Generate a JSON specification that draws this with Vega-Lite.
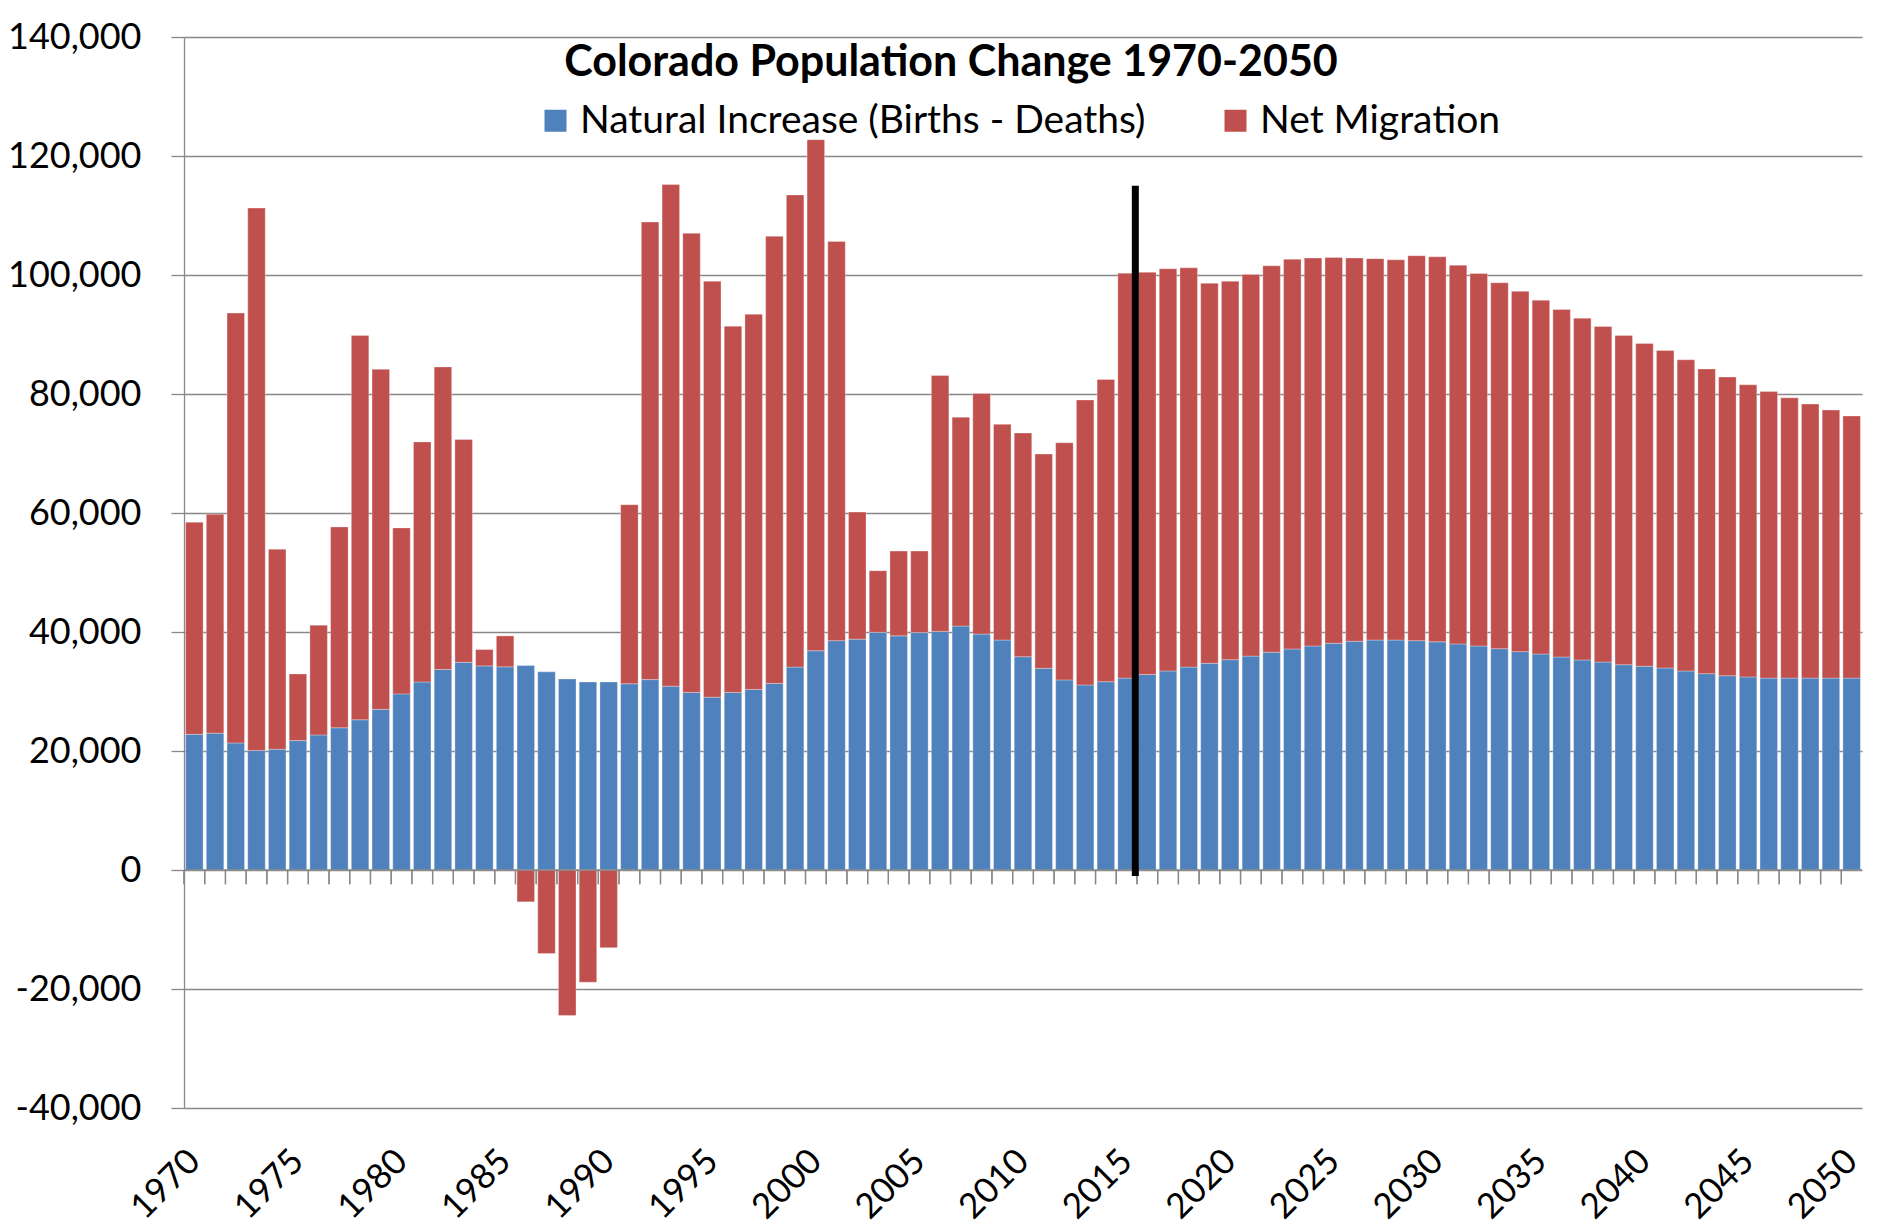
{
  "$schema": "https://vega.github.io/schema/vega-lite/v6.json",
  "width": 1678,
  "height": 1071,
  "autosize": {"type": "none"},
  "padding": {"left": 184, "top": 37, "right": 18, "bottom": 117},
  "background": "white",
  "config": {"view": {"stroke": null}, "font": "Lato"},
  "title": {"text": "Colorado Population Change 1970-2050", "frame": "group", "anchor": "middle", "offset": -62, "baseline": "middle", "dy": 25, "dx": -72, "fontSize": 43, "fontWeight": "bold", "font": "Lato", "color": "black"},
  "data": {"values": [
    {"year": 1970, "natural": 22800, "migration": 35650},
    {"year": 1971, "natural": 23000, "migration": 36800},
    {"year": 1972, "natural": 21350, "migration": 72250},
    {"year": 1973, "natural": 20100, "migration": 91150},
    {"year": 1974, "natural": 20300, "migration": 33600},
    {"year": 1975, "natural": 21750, "migration": 11200},
    {"year": 1976, "natural": 22700, "migration": 18450},
    {"year": 1977, "natural": 23900, "migration": 33750},
    {"year": 1978, "natural": 25250, "migration": 64600},
    {"year": 1979, "natural": 27000, "migration": 57150},
    {"year": 1980, "natural": 29600, "migration": 27900},
    {"year": 1981, "natural": 31600, "migration": 40350},
    {"year": 1982, "natural": 33700, "migration": 50850},
    {"year": 1983, "natural": 34900, "migration": 37450},
    {"year": 1984, "natural": 34300, "migration": 2750},
    {"year": 1985, "natural": 34150, "migration": 5200},
    {"year": 1986, "natural": 34350, "migration": -5350},
    {"year": 1987, "natural": 33300, "migration": -14050},
    {"year": 1988, "natural": 32100, "migration": -24450},
    {"year": 1989, "natural": 31600, "migration": -18850},
    {"year": 1990, "natural": 31600, "migration": -13050},
    {"year": 1991, "natural": 31300, "migration": 30100},
    {"year": 1992, "natural": 32000, "migration": 76900},
    {"year": 1993, "natural": 30900, "migration": 84300},
    {"year": 1994, "natural": 29850, "migration": 77150},
    {"year": 1995, "natural": 29050, "migration": 69900},
    {"year": 1996, "natural": 29850, "migration": 61550},
    {"year": 1997, "natural": 30350, "migration": 63050},
    {"year": 1998, "natural": 31350, "migration": 75150},
    {"year": 1999, "natural": 34100, "migration": 79350},
    {"year": 2000, "natural": 36850, "migration": 85900},
    {"year": 2001, "natural": 38550, "migration": 67100},
    {"year": 2002, "natural": 38800, "migration": 21350},
    {"year": 2003, "natural": 39950, "migration": 10350},
    {"year": 2004, "natural": 39350, "migration": 14250},
    {"year": 2005, "natural": 39900, "migration": 13700},
    {"year": 2006, "natural": 40100, "migration": 43000},
    {"year": 2007, "natural": 41000, "migration": 35100},
    {"year": 2008, "natural": 39650, "migration": 40450},
    {"year": 2009, "natural": 38650, "migration": 36250},
    {"year": 2010, "natural": 35850, "migration": 37600},
    {"year": 2011, "natural": 33900, "migration": 36000},
    {"year": 2012, "natural": 31950, "migration": 39850},
    {"year": 2013, "natural": 31100, "migration": 47900},
    {"year": 2014, "natural": 31650, "migration": 50800},
    {"year": 2015, "natural": 32250, "migration": 68050},
    {"year": 2016, "natural": 32850, "migration": 67600},
    {"year": 2017, "natural": 33450, "migration": 67600},
    {"year": 2018, "natural": 34100, "migration": 67100},
    {"year": 2019, "natural": 34750, "migration": 63850},
    {"year": 2020, "natural": 35350, "migration": 63600},
    {"year": 2021, "natural": 35950, "migration": 64150},
    {"year": 2022, "natural": 36600, "migration": 64950},
    {"year": 2023, "natural": 37150, "migration": 65500},
    {"year": 2024, "natural": 37650, "migration": 65200},
    {"year": 2025, "natural": 38100, "migration": 64850},
    {"year": 2026, "natural": 38450, "migration": 64400},
    {"year": 2027, "natural": 38650, "migration": 64100},
    {"year": 2028, "natural": 38650, "migration": 63900},
    {"year": 2029, "natural": 38550, "migration": 64700},
    {"year": 2030, "natural": 38350, "migration": 64700},
    {"year": 2031, "natural": 38000, "migration": 63650},
    {"year": 2032, "natural": 37650, "migration": 62600},
    {"year": 2033, "natural": 37200, "migration": 61500},
    {"year": 2034, "natural": 36700, "migration": 60550},
    {"year": 2035, "natural": 36300, "migration": 59450},
    {"year": 2036, "natural": 35800, "migration": 58400},
    {"year": 2037, "natural": 35300, "migration": 57450},
    {"year": 2038, "natural": 34950, "migration": 56400},
    {"year": 2039, "natural": 34500, "migration": 55350},
    {"year": 2040, "natural": 34250, "migration": 54250},
    {"year": 2041, "natural": 33950, "migration": 53350},
    {"year": 2042, "natural": 33450, "migration": 52300},
    {"year": 2043, "natural": 33000, "migration": 51200},
    {"year": 2044, "natural": 32650, "migration": 50200},
    {"year": 2045, "natural": 32450, "migration": 49100},
    {"year": 2046, "natural": 32250, "migration": 48150},
    {"year": 2047, "natural": 32250, "migration": 47100},
    {"year": 2048, "natural": 32250, "migration": 46050},
    {"year": 2049, "natural": 32250, "migration": 45050},
    {"year": 2050, "natural": 32250, "migration": 44050}
  ]},
  "transform": [{"fold": ["natural", "migration"], "as": ["series", "value"]}],
  "layer": [
    {
      "mark": {"type": "bar", "stroke": "white", "strokeWidth": 0.6, "strokeOpacity": 0.5},
      "encoding": {
        "x": {"field": "year", "type": "ordinal", "scale": {"paddingInner": 0.155, "paddingOuter": 0.077},
          "axis": {"values": [1970,1975,1980,1985,1990,1995,2000,2005,2010,2015,2020,2025,2030,2035,2040,2045,2050], "labelAngle": -45, "labelAlign": "right", "labelBaseline": "middle", "labelFontSize": 35, "labelFont": "Lato", "labelColor": "black", "ticks": false, "domain": false, "grid": false, "labelPadding": 47, "title": null}},
        "y": {"field": "value", "type": "quantitative", "stack": "zero", "scale": {"domain": [-40000, 140000], "nice": false},
          "axis": {"values": [-40000,-20000,0,20000,40000,60000,80000,100000,120000,140000], "labelExpr": "replace(format(datum.value, ',.0f'), '\u2212', '-')", "labelFontSize": 36, "labelFont": "Lato", "labelColor": "black", "tickSize": 13, "tickColor": "#888888", "tickWidth": 1.3, "domainColor": "#888888", "domainWidth": 1.3, "gridColor": "#888888", "gridWidth": 1.3, "labelPadding": 30, "title": null}},
        "color": {"field": "series", "type": "nominal", "scale": {"domain": ["natural", "migration"], "range": ["#4F81BD", "#C0504D"]},
          "legend": {"orient": "none", "legendX": 352, "legendY": 64, "direction": "horizontal", "title": null, "symbolType": "square", "symbolSize": 484, "symbolStrokeWidth": 0, "labelFontSize": 39, "labelFont": "Lato", "labelColor": "black", "labelOffset": 5, "columnPadding": 70, "labelLimit": 1000, "labelExpr": "datum.value == 'natural' ? 'Natural Increase (Births - Deaths)' : 'Net Migration'"}},
        "order": {"field": "series", "sort": "descending"}
      }
    },
    {
      "data": {"values": [{}]},
      "mark": {"type": "rule", "color": "#888888", "strokeWidth": 1.5},
      "encoding": {"y": {"datum": 0}}
    },
    {
      "mark": {"type": "rule", "color": "#888888", "strokeWidth": 1.3},
      "encoding": {
        "x": {"field": "year", "type": "ordinal", "bandPosition": -0.09},
        "y": {"datum": 0},
        "y2": {"datum": -2400}
      }
    },
    {
      "data": {"values": [{}]},
      "mark": {"type": "rule", "color": "black", "strokeWidth": 7},
      "encoding": {
        "x": {"datum": 2015, "type": "ordinal", "bandPosition": 1},
        "y": {"datum": 115000},
        "y2": {"datum": -1000}
      }
    }
  ]
}
